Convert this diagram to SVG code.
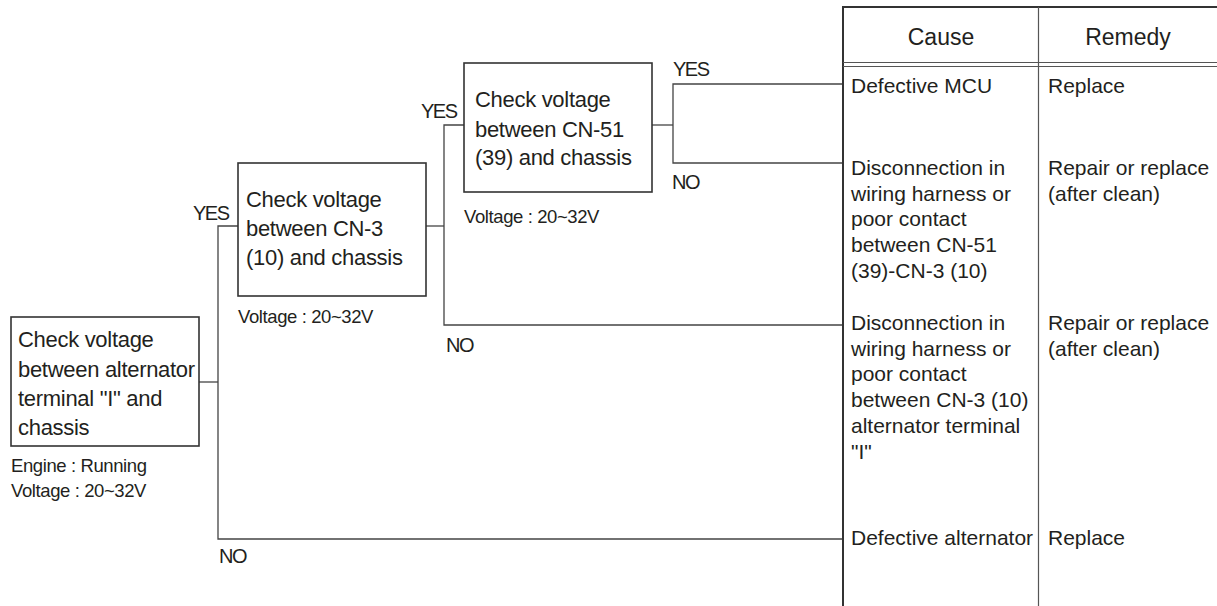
<svg xmlns="http://www.w3.org/2000/svg" width="1217" height="606" viewBox="0 0 1217 606">
<style>
  text { font-family: "Liberation Sans", Arial, sans-serif; fill: #231f20; }
  .box { fill: #fff; stroke: #333; stroke-width: 1.6; }
  .bt { font-size: 22px; letter-spacing: -0.3px; }
  .note { font-size: 18.5px; letter-spacing: -0.4px; }
  .lbl { font-size: 20px; letter-spacing: -1.5px; }
  .tt { font-size: 21px; }
  .hd { font-size: 23px; text-anchor: middle; }
  .conn { fill: none; stroke: #444; stroke-width: 1.3; }
  .tb { fill: none; stroke: #333; stroke-width: 2; }
  .tl { fill: none; stroke: #555; stroke-width: 1.2; }
</style>
<rect width="1217" height="606" fill="#fff"/>

<g id="connectors">
  <polyline class="conn" points="199,382 218,382"/>
  <polyline class="conn" points="238,226 218,226 218,539 843,539"/>
  <polyline class="conn" points="426,226 444,226"/>
  <polyline class="conn" points="464,125 444,125 444,325 843,325"/>
  <polyline class="conn" points="652,125 673,125"/>
  <polyline class="conn" points="843,84 673,84 673,163 843,163"/>
  <text class="lbl" x="193" y="220">YES</text>
  <text class="lbl" x="219" y="563">NO</text>
  <text class="lbl" x="421" y="118">YES</text>
  <text class="lbl" x="446" y="352">NO</text>
  <text class="lbl" x="673" y="76">YES</text>
  <text class="lbl" x="672" y="189">NO</text>
</g>

<g id="node-alternator">
  <rect class="box" x="11" y="317" width="188" height="129"/>
  <text class="bt" x="18" y="347">Check voltage</text>
  <text class="bt" x="18" y="376.5">between alternator</text>
  <text class="bt" x="18" y="406">terminal "I" and</text>
  <text class="bt" x="18" y="435">chassis</text>
  <text class="note" x="11" y="472">Engine : Running</text>
  <text class="note" x="11" y="497">Voltage : 20~32V</text>
</g>

<g id="node-cn3">
  <rect class="box" x="238" y="163" width="188" height="133"/>
  <text class="bt" x="246" y="207">Check voltage</text>
  <text class="bt" x="246" y="236">between CN-3</text>
  <text class="bt" x="246" y="265">(10) and chassis</text>
  <text class="note" x="238" y="323">Voltage : 20~32V</text>
</g>

<g id="node-cn51">
  <rect class="box" x="464" y="63" width="188" height="129"/>
  <text class="bt" x="475" y="107">Check voltage</text>
  <text class="bt" x="475" y="136.5">between CN-51</text>
  <text class="bt" x="475" y="164.5">(39) and chassis</text>
  <text class="note" x="464" y="223">Voltage : 20~32V</text>
</g>

<g id="table">
  <line class="tb" x1="842" y1="7" x2="1217" y2="7"/>
  <line class="tb" x1="843" y1="6" x2="843" y2="606"/>
  <line class="tl" x1="1038.5" y1="7" x2="1038.5" y2="606"/>
  <line class="tl" x1="843" y1="62.5" x2="1217" y2="62.5"/>
  <line class="tl" x1="843" y1="66.5" x2="1217" y2="66.5"/>
  <text class="hd" x="941" y="45">Cause</text>
  <text class="hd" x="1128" y="45">Remedy</text>

  <text class="tt" x="851" y="92.5">Defective MCU</text>
  <text class="tt" x="1048" y="92.5">Replace</text>

  <text class="tt" x="851" y="175">Disconnection in</text>
  <text class="tt" x="851" y="200.7">wiring harness or</text>
  <text class="tt" x="851" y="226.4">poor contact</text>
  <text class="tt" x="851" y="252.1">between CN-51</text>
  <text class="tt" x="851" y="277.8">(39)-CN-3 (10)</text>
  <text class="tt" x="1048" y="175">Repair or replace</text>
  <text class="tt" x="1048" y="200.7">(after clean)</text>

  <text class="tt" x="851" y="330">Disconnection in</text>
  <text class="tt" x="851" y="355.7">wiring harness or</text>
  <text class="tt" x="851" y="381.4">poor contact</text>
  <text class="tt" x="851" y="407.1">between CN-3 (10)</text>
  <text class="tt" x="851" y="432.8">alternator terminal</text>
  <text class="tt" x="851" y="458.5">"I"</text>
  <text class="tt" x="1048" y="330">Repair or replace</text>
  <text class="tt" x="1048" y="355.7">(after clean)</text>

  <text class="tt" x="851" y="545">Defective alternator</text>
  <text class="tt" x="1048" y="545">Replace</text>
</g>
</svg>
